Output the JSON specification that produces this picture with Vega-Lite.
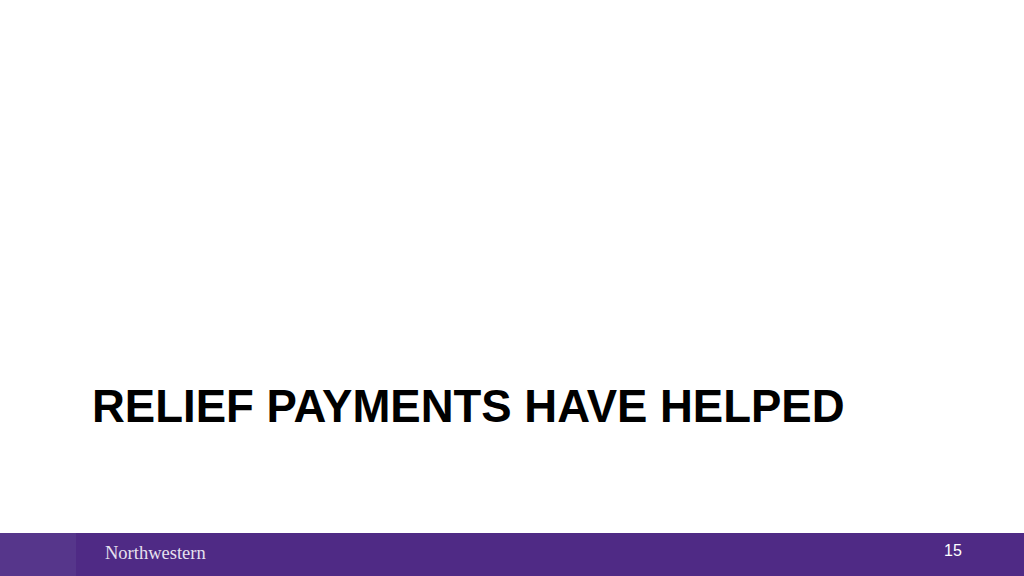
{
  "$schema": "https://vega.github.io/schema/vega-lite/v6.json",
  "width": 1024,
  "height": 576,
  "autosize": {"type": "fit", "contains": "padding"},
  "padding": 0,
  "background": "#ffffff",
  "config": {"view": {"stroke": null}},
  "datasets": {
    "bands": [
      {"part": "footer", "x0": 0, "x1": 1024, "y0": 533, "y1": 576, "fill": "footer"},
      {"part": "tab", "x0": 0, "x1": 76, "y0": 533, "y1": 576, "fill": "tab"}
    ],
    "title": [
      {"text": "RELIEF PAYMENTS HAVE HELPED", "x": 92, "y": 422}
    ],
    "brand": [
      {"text": "Northwestern", "x": 105, "y": 559}
    ],
    "page": [
      {"text": "15", "x": 944, "y": 556}
    ]
  },
  "layer": [
    {
      "data": {"name": "bands"},
      "mark": {"type": "rect"},
      "encoding": {
        "x": {"field": "x0", "type": "quantitative", "axis": null, "scale": {"domain": [0, 1024], "nice": false, "zero": false}},
        "x2": {"field": "x1"},
        "y": {"field": "y0", "type": "quantitative", "axis": null, "scale": {"domain": [0, 576], "nice": false, "zero": false, "reverse": true}},
        "y2": {"field": "y1"},
        "color": {"field": "fill", "type": "nominal", "legend": null, "scale": {"domain": ["footer", "tab"], "range": ["#4F2A85", "#56368B"]}}
      }
    },
    {
      "data": {"name": "title"},
      "mark": {"type": "text", "align": "left", "baseline": "alphabetic", "font": "Liberation Sans", "fontWeight": "bold", "fontSize": 45.5, "color": "#000000"},
      "encoding": {
        "x": {"field": "x", "type": "quantitative"},
        "y": {"field": "y", "type": "quantitative"},
        "text": {"field": "text"}
      }
    },
    {
      "data": {"name": "brand"},
      "mark": {"type": "text", "align": "left", "baseline": "alphabetic", "font": "Liberation Serif", "fontSize": 18.5, "color": "#E6E1EF"},
      "encoding": {
        "x": {"field": "x", "type": "quantitative"},
        "y": {"field": "y", "type": "quantitative"},
        "text": {"field": "text"}
      }
    },
    {
      "data": {"name": "page"},
      "mark": {"type": "text", "align": "left", "baseline": "alphabetic", "font": "Liberation Sans", "fontSize": 16, "color": "#FFFFFF"},
      "encoding": {
        "x": {"field": "x", "type": "quantitative"},
        "y": {"field": "y", "type": "quantitative"},
        "text": {"field": "text"}
      }
    }
  ]
}
